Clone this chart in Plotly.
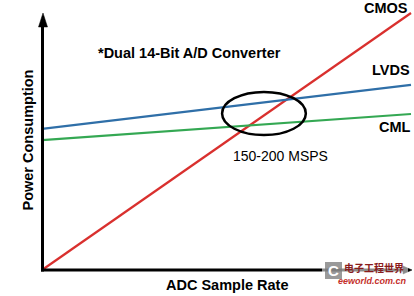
import plotly.graph_objects as go

# ---- data (normalised units: sample rate 0..1, power 0..1) ----
sample_rate = [0.0, 1.0]
cmos_power = [0.0, 1.0]
lvds_power = [0.549, 0.720]
cml_power = [0.505, 0.607]
series_names = ["CMOS", "LVDS", "CML"]
series_colors = ["#d9302e", "#2f6fa8", "#34a853"]
highlight = {"x0": 0.488, "x1": 0.715, "y0": 0.525, "y1": 0.693}
highlight_label = "150-200 MSPS"
chart_note = "*Dual 14-Bit A/D Converter"
x_title = "ADC Sample Rate"
y_title = "Power Consumption"

W, H = 414, 296
ML, MR, MT, MB = 30, 0, 0, 20
PW, PH = W - ML - MR, H - MT - MB
# pixel position of data origin and (1,1)
X0, X1 = 42, 411
Y0, Y1 = 270, 13
sx = (X1 - X0)
sy = (Y0 - Y1)
xr = [(ML - X0) / sx, (W - MR - X0) / sx]
yr = [(Y0 - (H - MB)) / sy, (Y0 - MT) / sy]


def px(x):
    return (x - ML) / PW


def py(y):
    return (H - MB - y) / PH


fig = go.Figure()
for name, ys, col in zip(series_names, [cmos_power, lvds_power, cml_power], series_colors):
    fig.add_trace(go.Scatter(x=sample_rate, y=ys, mode="lines", name=name,
                             line=dict(color=col, width=2.2), showlegend=False,
                             hoverinfo="skip"))

shapes = []
# ellipse
shapes.append(dict(type="circle", xref="x", yref="y", line=dict(color="black", width=2.5),
                   fillcolor="rgba(0,0,0,0)", **highlight))
# y axis with arrow
shapes.append(dict(type="line", xref="paper", yref="paper", x0=px(42.5), x1=px(42.5),
                   y0=py(271.5), y1=py(24), line=dict(color="black", width=3)))
shapes.append(dict(type="path", xref="paper", yref="paper",
                   path=f"M {px(43)},{py(13)} L {px(38.5)},{py(27)} L {px(47.5)},{py(27)} Z",
                   fillcolor="black", line=dict(color="black", width=0.5)))
# x axis with arrow
shapes.append(dict(type="line", xref="paper", yref="paper", x0=px(41), x1=px(404),
                   y0=py(270), y1=py(270), line=dict(color="black", width=3)))
shapes.append(dict(type="path", xref="paper", yref="paper",
                   path=f"M {px(412)},{py(270)} L {px(403)},{py(266)} L {px(403)},{py(274)} Z",
                   fillcolor="black", line=dict(color="black", width=0.5)))
# watermark backdrop + icon
shapes.append(dict(type="rect", xref="paper", yref="paper", x0=px(322), x1=px(408),
                   y0=py(259), y1=py(293), fillcolor="rgba(255,255,255,0.55)",
                   line=dict(width=0), layer="above"))
shapes.append(dict(type="rect", xref="paper", yref="paper", x0=px(325), x1=px(342),
                   y0=py(262), y1=py(279), fillcolor="rgba(120,120,120,0.75)",
                   line=dict(width=0), layer="above"))

bold = dict(family="Liberation Sans", size=14.5, color="black", weight="bold")
ann = []


def txt(text, x, y, font, **kw):
    ann.append(dict(text=text, xref="paper", yref="paper", x=px(x), y=py(y),
                    xanchor="center", yanchor="middle", showarrow=False, font=font,
                    borderpad=0, **kw))


txt(series_names[0], 385.5, 8, bold)
txt(series_names[1], 391, 70, bold)
txt(series_names[2], 394.5, 127, bold)
txt(chart_note, 189, 53, bold)
txt(highlight_label, 280, 156, dict(family="Liberation Sans", size=14, color="black"))
txt(x_title, 226.5, 285, bold)
txt(y_title, 27.5, 140, bold, textangle=-90)
# watermark texts
txt("C", 333.5, 270.5, dict(family="Liberation Sans", size=15, color="white", weight="bold"))
txt("电子工程世界", 373.5, 267, dict(family="Noto Sans CJK SC", size=10, color="#8a1c1c", weight="bold"))
txt("eeworld.com.cn", 372.5, 281, dict(family="Liberation Sans", size=9, color="#c4302b",
                                        weight="bold", style="italic"))

fig.update_layout(
    width=W, height=H, margin=dict(l=ML, r=MR, t=MT, b=MB),
    paper_bgcolor="white", plot_bgcolor="white",
    xaxis=dict(range=xr, visible=False, fixedrange=True),
    yaxis=dict(range=yr, visible=False, fixedrange=True),
    shapes=shapes, annotations=ann,
)
fig.write_html("out.html")
